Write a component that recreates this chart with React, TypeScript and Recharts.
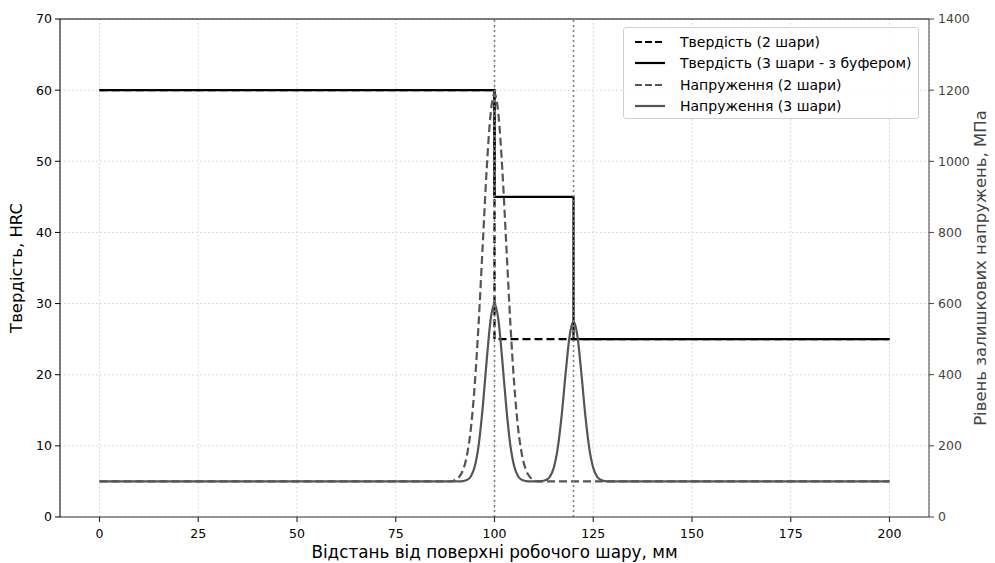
import React from 'react';
import { LineChart, Line, XAxis, YAxis, CartesianGrid, ReferenceLine, Label } from 'recharts';

const xTicks = [0, 25, 50, 75, 100, 125, 150, 175, 200];
const hrcTicks = [0, 10, 20, 30, 40, 50, 60, 70];
const mpaTicks = [0, 200, 400, 600, 800, 1000, 1200, 1400];
const layerBounds = [100, 120];

const hard2X = [0, 100, 100, 200];
const hard2Y = [60, 60, 25, 25];

const hard3X = [0, 100, 100, 120, 120, 200];
const hard3Y = [60, 60, 45, 45, 25, 25];

const stress2X = [0, 89, 90, 91, 92, 93, 94, 95, 96, 97, 98, 99, 100, 101, 102, 103, 104, 105, 106, 107, 108, 109, 110, 111, 200];
const stress2Y = [100, 100, 104, 112, 131, 172, 247, 372, 548, 761, 973, 1131, 1190, 1131, 973, 761, 548, 372, 247, 172, 131, 112, 104, 100, 100];

const stress3X = [0, 91, 92, 93, 94, 95, 96, 97, 98, 99, 100, 101, 102, 103, 104, 105, 106, 107, 108, 109, 110, 111, 112, 113, 114, 115, 116, 117, 118, 119, 120, 121, 122, 123, 124, 125, 126, 127, 128, 129, 200];
const stress3Y = [100, 100, 101, 104, 114, 142, 203, 306, 437, 553, 600, 553, 437, 306, 203, 142, 114, 104, 101, 100, 100, 100, 101, 104, 113, 138, 193, 285, 403, 508, 550, 508, 403, 285, 193, 138, 113, 104, 101, 100, 100];

const zip = (xs: number[], ys: number[]) => xs.map((x, i) => ({ x, y: ys[i] }));

const hard2 = zip(hard2X, hard2Y);
const hard3 = zip(hard3X, hard3Y);
const stress2 = zip(stress2X, stress2Y);
const stress3 = zip(stress3X, stress3Y);

const FONT = 'DejaVu Sans, sans-serif';

const legendItems = [
  { label: 'Твердість (2 шари)', color: '#000', dash: '7 3' },
  { label: 'Твердість (3 шари - з буфером)', color: '#000', dash: undefined },
  { label: 'Напруження (2 шари)', color: '#555', dash: '7 3' },
  { label: 'Напруження (3 шари)', color: '#555', dash: undefined },
];

const LegendBox = () => (
  <div
    style={{
      position: 'absolute',
      left: 623,
      top: 27,
      width: 296,
      height: 92,
      background: 'rgba(255,255,255,0.85)',
      border: '1px solid #d0d0d0',
      borderRadius: 3,
      padding: '3px 4px 3px 10px',
      fontFamily: FONT,
      fontSize: 14,
      color: '#000',
      boxSizing: 'border-box',
    }}
  >
    {legendItems.map((it) => (
      <div key={it.label} style={{ display: 'flex', alignItems: 'center', height: 21.5 }}>
        <svg width={32} height={10} style={{ marginRight: 14, flex: 'none' }}>
          <line x1={1} y1={5} x2={31} y2={5} stroke={it.color} strokeWidth={2.2} strokeDasharray={it.dash} />
        </svg>
        <span style={{ whiteSpace: 'nowrap' }}>{it.label}</span>
      </div>
    ))}
  </div>
);

export default function App() {
  return (
    <div style={{ position: 'absolute', left: 0, top: 0, width: 995, height: 563, background: '#fff' }}>
      <LineChart
        width={995}
        height={563}
        margin={{ top: 19, right: 6, bottom: 16, left: 10 }}
        style={{ fontFamily: FONT }}
      >
        <CartesianGrid stroke="#cfcfcf" strokeDasharray="1.5 2.5" yAxisId="left" />
        <XAxis
          dataKey="x"
          type="number"
          domain={[-10, 210]}
          ticks={xTicks}
          allowDataOverflow
          height={30}
          tick={{ fontSize: 12.5, fill: '#000', fontFamily: FONT }}
          tickSize={5}
          tickMargin={7}
          stroke="#333"
          strokeWidth={1.2}
        >
          <Label
            value="Відстань від поверхні робочого шару, мм"
            position="bottom"
            offset={-1}
            style={{ fontSize: 16.8, fill: '#000', fontFamily: FONT }}
          />
        </XAxis>
        <YAxis
          yAxisId="left"
          type="number"
          domain={[0, 70]}
          ticks={hrcTicks}
          width={50}
          allowDataOverflow
          tick={{ fontSize: 12.5, fill: '#000', fontFamily: FONT }}
          tickSize={5}
          tickMargin={3}
          stroke="#000"
          strokeWidth={1}
        >
          <Label
            value="Твердість, HRC"
            angle={-90}
            position="insideLeft"
            offset={6}
            style={{ textAnchor: 'middle', fontSize: 16.5, fill: '#000', fontFamily: FONT }}
          />
        </YAxis>
        <YAxis
          yAxisId="right"
          orientation="right"
          type="number"
          domain={[0, 1400]}
          ticks={mpaTicks}
          width={60}
          allowDataOverflow
          tick={{ fontSize: 12.5, fill: '#444', fontFamily: FONT }}
          tickSize={5}
          tickMargin={4}
          stroke="#444"
          strokeWidth={1}
        >
          <Label
            value="Рівень залишкових напружень, МПа"
            angle={-90}
            position="insideRight"
            offset={9}
            style={{ textAnchor: 'middle', fontSize: 16.5, fill: '#444', fontFamily: FONT }}
          />
        </YAxis>
        <ReferenceLine yAxisId="left" y={70} stroke="#000" strokeWidth={1} />
        <Line
          yAxisId="left"
          data={hard2}
          dataKey="y"
          type="linear"
          stroke="#000"
          strokeWidth={2.2}
          strokeDasharray="8 4"
          dot={false}
          activeDot={false}
          isAnimationActive={false}
        />
        <Line
          yAxisId="left"
          data={hard3}
          dataKey="y"
          type="linear"
          stroke="#000"
          strokeWidth={2.2}
          dot={false}
          activeDot={false}
          isAnimationActive={false}
        />
        <Line
          yAxisId="right"
          data={stress2}
          dataKey="y"
          type="monotone"
          stroke="#555"
          strokeWidth={2.2}
          strokeDasharray="8 4"
          dot={false}
          activeDot={false}
          isAnimationActive={false}
        />
        <Line
          yAxisId="right"
          data={stress3}
          dataKey="y"
          type="monotone"
          stroke="#555"
          strokeWidth={2.2}
          dot={false}
          activeDot={false}
          isAnimationActive={false}
        />
        {layerBounds.map((b) => (
          <ReferenceLine
            key={b}
            yAxisId="left"
            x={b}
            stroke="#808080"
            strokeWidth={1.6}
            strokeDasharray="2 3"
          />
        ))}
      </LineChart>
      <LegendBox />
    </div>
  );
}
